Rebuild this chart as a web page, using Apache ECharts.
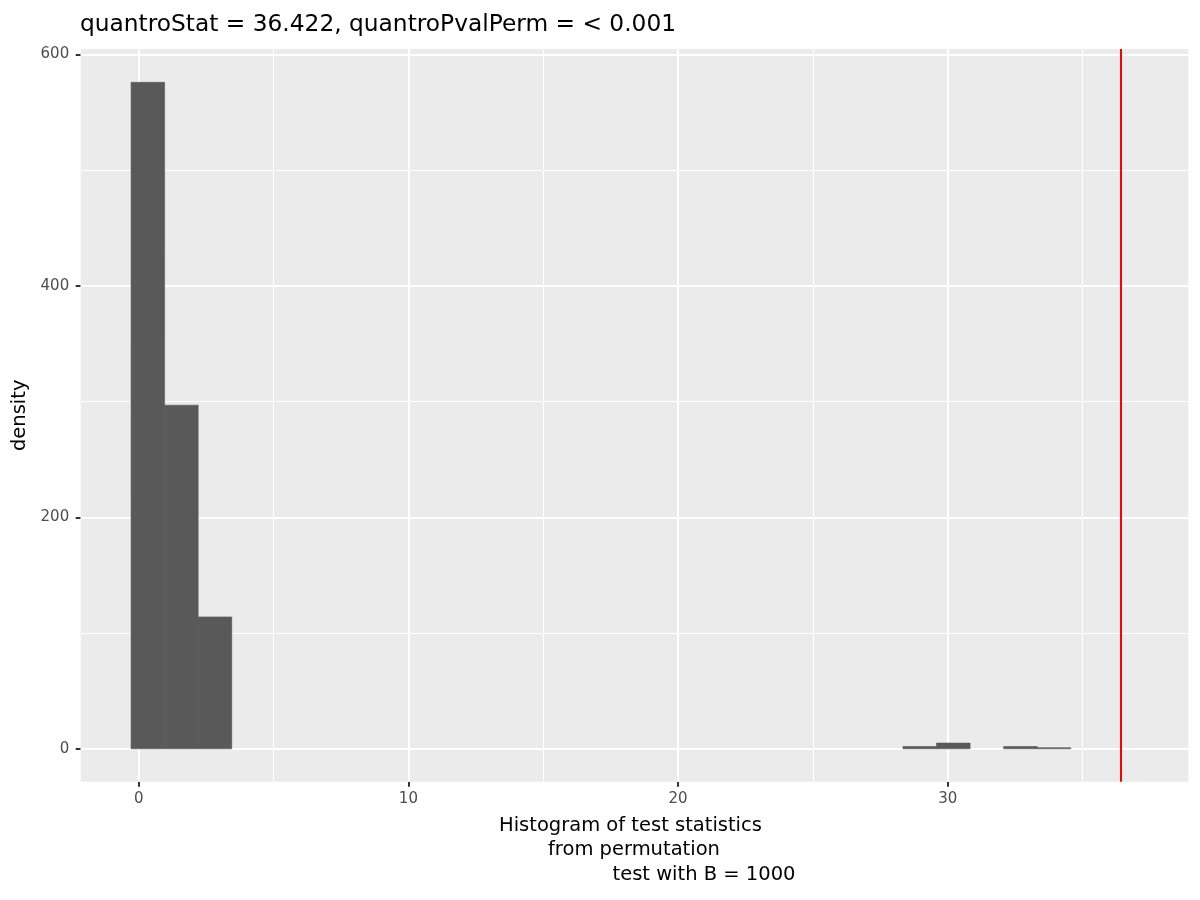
<!DOCTYPE html>
<html>
<head>
<meta charset="utf-8">
<script src="https://cdn.jsdelivr.net/npm/echarts@6/dist/echarts.min.js"></script>
<style>
html,body{margin:0;padding:0;background:#fff;}
#chart{width:1200px;height:900px;}
</style>
</head>
<body>
<div id="chart"></div>
<script>
// ---- data ----
const binLeft  = [-0.284, 0.961, 2.205, 28.340, 29.584, 32.073, 33.318];
const binRight = [0.961, 2.205, 3.450, 29.584, 30.829, 33.318, 34.562];
const density  = [576, 297, 114, 2, 5, 2, 1];
const quantroStat = 36.422;
const xTicks = [0, 10, 20, 30];
const xMinor = [5, 15, 25, 35];
const yTicks = [0, 200, 400, 600];
const yMinor = [100, 300, 500];
const titleText = 'quantroStat = 36.422, quantroPvalPerm = < 0.001';
const xTitleLines = ['Histogram of test statistics', 'from permutation', 'test with B = 1000'];
const yTitle = 'density';

const FONT = '"DejaVu Sans", sans-serif';
const chart = echarts.init(document.getElementById('chart'));

const barData = binLeft.map((l, i) => [l, binRight[i], density[i]]);

const gridLines = [];
xTicks.forEach(v => gridLines.push({xAxis: v, lineStyle: {width: 2}}));
xMinor.forEach(v => gridLines.push({xAxis: v, lineStyle: {width: 1.1}}));
yTicks.forEach(v => gridLines.push({yAxis: v, lineStyle: {width: 2}}));
yMinor.forEach(v => gridLines.push({yAxis: v, lineStyle: {width: 1.1}}));

const tickLabelStyle = {color: '#4D4D4D', fontSize: 15, fontFamily: FONT};

const option = {
  animation: false,
  backgroundColor: '#ffffff',
  textStyle: {fontFamily: FONT, fontSize: 15},
  title: {
    text: titleText,
    left: 80,
    top: 13,
    padding: 0,
    textStyle: {fontFamily: FONT, fontSize: 23.3, fontWeight: 'normal', color: '#000000'}
  },
  grid: {
    left: 80.7, right: 11.7, top: 49, bottom: 118.3,
    show: true, backgroundColor: '#EBEBEB', borderWidth: 0,
    containLabel: false, outerBoundsMode: 'none'
  },
  xAxis: {
    type: 'value', min: -2.151, max: 38.92,
    axisLine: {show: false, onZero: false},
    splitLine: {show: false},
    axisTick: {show: true, customValues: xTicks, length: 5, lineStyle: {color: '#333333', width: 2}},
    axisLabel: Object.assign({customValues: xTicks, margin: 10,
      formatter: v => '{t|' + v + '}', rich: {t: tickLabelStyle}}, tickLabelStyle)
  },
  yAxis: {
    type: 'value', min: -28.4, max: 604.8,
    axisLine: {show: false, onZero: false},
    splitLine: {show: false},
    axisTick: {show: true, customValues: yTicks, length: 5, lineStyle: {color: '#333333', width: 2}},
    axisLabel: Object.assign({customValues: yTicks, margin: 11.5,
      formatter: v => '{t|' + v + '}', rich: {t: tickLabelStyle}}, tickLabelStyle)
  },
  series: [
    {
      type: 'line', data: [], z: 1, silent: true,
      markLine: {
        z: 1, silent: true, symbol: ['none', 'none'], label: {show: false},
        lineStyle: {color: '#FFFFFF', type: 'solid'},
        emphasis: {disabled: true},
        data: gridLines
      }
    },
    {
      type: 'custom', z: 3, silent: true,
      data: barData,
      encode: {x: [0, 1], y: 2},
      renderItem: function (params, api) {
        const p0 = api.coord([api.value(0), api.value(2)]);
        const p1 = api.coord([api.value(1), 0]);
        return {
          type: 'rect',
          shape: {x: p0[0], y: p0[1], width: p1[0] - p0[0], height: p1[1] - p0[1]},
          style: {fill: '#595959', stroke: '#595959', lineWidth: 0.6}
        };
      }
    },
    {
      type: 'line', data: [], z: 6, silent: true,
      markLine: {
        z: 6, silent: true, symbol: ['none', 'none'], label: {show: false},
        lineStyle: {color: '#FF0000', type: 'solid', width: 2},
        emphasis: {disabled: true},
        data: [{xAxis: quantroStat}]
      }
    }
  ],
  graphic: [
    {type: 'text', x: 499, y: 825.9, silent: true,
     style: {text: xTitleLines[0], font: '19.5px ' + FONT, fill: '#000000', align: 'left', verticalAlign: 'middle'}},
    {type: 'text', x: 548, y: 850.2, silent: true,
     style: {text: xTitleLines[1], font: '19.5px ' + FONT, fill: '#000000', align: 'left', verticalAlign: 'middle'}},
    {type: 'text', x: 612.5, y: 874.9, silent: true,
     style: {text: xTitleLines[2], font: '19.5px ' + FONT, fill: '#000000', align: 'left', verticalAlign: 'middle'}},
    {type: 'text', x: 19.5, y: 415.3, rotation: Math.PI / 2, silent: true,
     style: {text: yTitle, font: '19.5px ' + FONT, fill: '#000000', align: 'center', verticalAlign: 'middle'}}
  ]
};
chart.setOption(option);
</script>
</body>
</html>
